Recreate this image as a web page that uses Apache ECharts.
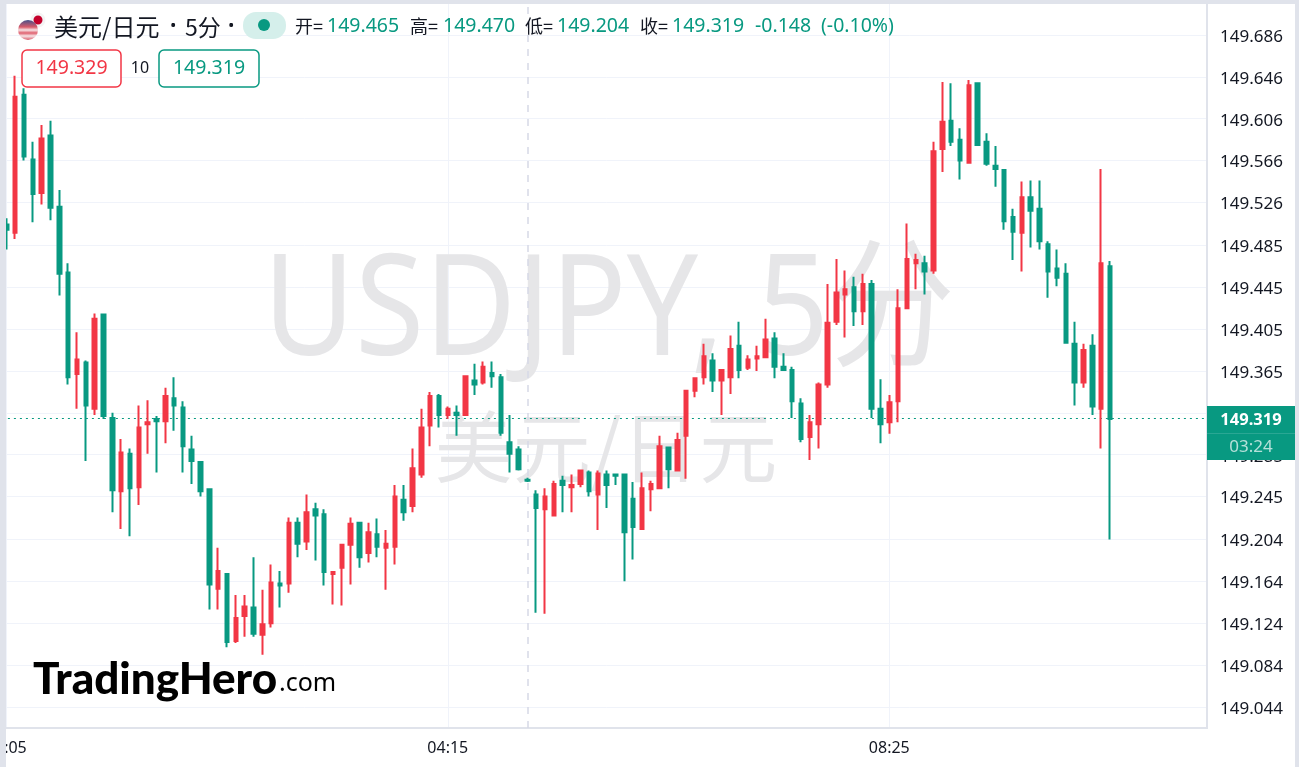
<!DOCTYPE html>
<html>
<head>
<meta charset="utf-8">
<script src="https://cdn.jsdelivr.net/npm/echarts@6/dist/echarts.min.js"></script>
<style>
html, body { margin: 0; padding: 0; background: #fff; }
#main { width: 1299px; height: 767px; }
</style>
</head>
<body>
<div id="main"></div>
<script>
// 价格数据（从图上读取，基数 149）
const opens = [.505,.497,.629,.567,.535,.590,.522,.459,.362,.373,.329,.419,.320,.250,.286,.254,.314,.319,.317,.339,.330,.290,.278,.252,.157,.171,.107,.131,.139,.113,.124,.162,.162,.220,.202,.233,.228,.171,.177,.199,.220,.191,.209,.196,.197,.242,.236,.266,.313,.341,.323,.325,.323,.356,.354,.363,.359,.297,.290,.261,.247,.233,.227,.260,.254,.257,.268,.247,.266,.266,.266,.243,.214,.252,.253,.292,.270,.303,.346,.359,.375,.356,.359,.389,.368,.377,.378,.396,.369,.366,.334,.302,.314,.352,.412,.438,.445,.422,.448,.329,.316,.336,.425,.468,.468,.461,.577,.604,.586,.564,.640,.584,.561,.557,.512,.497,.531,.520,.486,.463,.458,.391,.354,.389,.329,.465];
const closes = [.500,.627,.570,.534,.587,.521,.458,.359,.376,.332,.415,.322,.251,.287,.253,.311,.316,.317,.341,.332,.293,.279,.250,.161,.174,.106,.129,.140,.114,.123,.163,.160,.220,.200,.230,.227,.173,.173,.199,.219,.187,.211,.197,.200,.245,.230,.272,.311,.341,.323,.329,.323,.360,.352,.369,.360,.306,.286,.271,.260,.234,.245,.257,.256,.256,.270,.250,.267,.256,.265,.211,.216,.253,.257,.293,.271,.299,.346,.358,.379,.356,.366,.386,.366,.376,.379,.395,.369,.366,.336,.300,.316,.352,.411,.440,.443,.422,.448,.329,.314,.335,.425,.472,.471,.460,.575,.603,.584,.566,.638,.581,.563,.558,.508,.498,.531,.518,.489,.460,.454,.392,.354,.385,.331,.468,.319];
const highs = [.511,.647,.635,.584,.600,.604,.538,.468,.402,.375,.420,.419,.325,.300,.291,.332,.337,.322,.349,.359,.336,.303,.279,.253,.196,.171,.151,.151,.187,.156,.180,.174,.225,.225,.247,.239,.233,.174,.200,.225,.220,.220,.224,.213,.256,.256,.291,.329,.345,.343,.331,.332,.360,.372,.374,.374,.362,.323,.293,.263,.251,.253,.260,.265,.266,.270,.270,.270,.270,.267,.266,.259,.268,.260,.303,.292,.306,.346,.358,.391,.382,.366,.399,.412,.380,.389,.415,.402,.382,.369,.339,.323,.354,.448,.472,.461,.455,.458,.452,.357,.342,.443,.506,.477,.475,.584,.641,.640,.597,.643,.640,.592,.580,.557,.520,.546,.547,.547,.489,.481,.468,.412,.391,.400,.558,.470];
const lows = [.481,.491,.566,.507,.524,.509,.437,.352,.329,.279,.323,.319,.230,.214,.207,.237,.286,.268,.296,.308,.268,.257,.245,.137,.137,.101,.105,.111,.111,.094,.120,.139,.153,.187,.194,.184,.160,.142,.141,.161,.177,.182,.187,.156,.180,.222,.230,.263,.293,.311,.319,.303,.323,.342,.352,.349,.303,.268,.270,.259,.134,.133,.227,.230,.230,.254,.245,.213,.234,.256,.164,.185,.214,.231,.253,.253,.270,.262,.340,.352,.345,.323,.343,.358,.366,.365,.378,.358,.366,.320,.297,.280,.291,.349,.409,.397,.408,.409,.320,.296,.305,.316,.425,.443,.438,.458,.555,.580,.548,.564,.580,.561,.541,.500,.471,.460,.483,.481,.435,.446,.391,.332,.349,.323,.291,.204];
const yTicks = [149.686,149.646,149.606,149.566,149.526,149.485,149.445,149.405,149.365,149.325,149.285,149.245,149.204,149.164,149.124,149.084,149.044];
const lastPrice = 149.319;
const sessionBreak = 59; // 虚线所在K线
const emptyBars = 11; // 右侧留白

const categories = [];
for (let i = 0; i < opens.length + emptyBars; i++) {
  const m = 5 + i * 5;
  categories.push(String(Math.floor(m / 60)).padStart(2, "0") + ":" + String(m % 60).padStart(2, "0"));
}
const candleData = opens.map((o, i) => [149 + o, 149 + closes[i], 149 + lows[i], 149 + highs[i]]);

const UP = "#f23645";
const DOWN = "#089981";
const FONT = '"Noto Sans", "Noto Sans CJK SC", sans-serif';
const CJK = '"Noto Sans CJK SC", sans-serif';
const yMin = 149.0239;
const yMax = 149.7156;

function showLabel(i) {
  return i === 0 || i === 50 || i === 100;
}

function txt(x, y, text, fill, size, extra) {
  return {
    type: "text", x: x, y: y, z: 30, silent: true,
    style: Object.assign({ text: text, fill: fill, font: size + "px " + FONT, verticalAlign: "middle" }, extra || {}),
  };
}

const chart = echarts.init(document.getElementById("main"), null, { renderer: "canvas" });
chart.setOption({
  animation: false,
  backgroundColor: "#fff",
  grid: { left: 1.9, right: 87.4, top: 4, bottom: 39, outerBoundsMode: "none" },
  xAxis: {
    type: "category",
    data: categories,
    boundaryGap: true,
    axisLine: { lineStyle: { color: "#e0e3eb", width: 2 } },
    axisTick: { show: false, alignWithLabel: true },
    axisLabel: {
      interval: (i) => showLabel(i),
      color: "#131722",
      fontFamily: FONT,
      fontSize: 16,
      margin: 12,
      hideOverlap: false,
    },
    splitLine: { show: true, alignWithLabel: true, interval: (i) => showLabel(i), lineStyle: { color: "#f0f3fa", width: 1 } },
  },
  yAxis: [
    {
      type: "value", min: yMin, max: yMax, scale: true, z: 0,
      axisLine: { show: false }, axisTick: { show: false, customValues: yTicks },
      axisLabel: { show: false, customValues: yTicks },
      splitLine: { show: true, lineStyle: { color: "#f0f3fa", width: 1 } },
    },
    {
      type: "value", min: yMin, max: yMax, scale: true, position: "right", offset: -4.6, z: 10,
      axisLine: { show: true, lineStyle: { color: "#e0e3eb", width: 2 } },
      axisTick: { show: false, customValues: yTicks },
      axisLabel: {
        customValues: yTicks, color: "#131722", fontFamily: FONT, fontSize: 17, margin: 13,
        formatter: (v) => "{a|" + v.toFixed(3) + "}",
        rich: { a: { fontFamily: FONT, fontSize: 17, color: "#131722", padding: [4, 0, 0, 0] } },
      },
      splitLine: { show: false },
    },
  ],
  series: [
    {
      type: "candlestick",
      data: candleData,
      barWidth: 4,
      z: 5,
      itemStyle: { color: UP, color0: DOWN, borderColor: UP, borderColor0: DOWN, borderWidth: 2 },
      markLine: {
        silent: true, symbol: "none", animation: false, z: 4,
        label: { show: false },
        data: [
          { yAxis: lastPrice, lineStyle: { color: DOWN, type: [2, 4], width: 1.2 } },
          { xAxis: sessionBreak, lineStyle: { color: "#d6d9e6", type: [7, 7], width: 1.5 } },
        ],
      },
    },
  ],
  graphic: [
    // 水印
    { type: "text", x: 609, y: 315, scaleY: 1.11, z: 1, silent: true, style: { text: "USDJPY, 5分", fill: "#e6e6e8", font: '126px ' + FONT, align: "center", verticalAlign: "middle" } },
    { type: "text", x: 606, y: 447, z: 1, silent: true, style: { text: "美元/日元", fill: "#e6e6e8", font: '78px ' + CJK, align: "center", verticalAlign: "middle" } },
    // 边框与右侧价格栏
    { type: "rect", z: 8, silent: true, shape: { x: 1208, y: 0, width: 91, height: 767 }, style: { fill: "#fff" } },
    { type: "rect", z: 20, silent: true, shape: { x: 0, y: 0, width: 6, height: 767 }, style: { fill: "#e0e3eb" } },
    { type: "rect", z: 20, silent: true, shape: { x: 0, y: 0, width: 1299, height: 4 }, style: { fill: "#e0e3eb" } },
    { type: "rect", z: 20, silent: true, shape: { x: 1295, y: 0, width: 4, height: 767 }, style: { fill: "#e0e3eb" } },
    // 当前价格
    { type: "rect", z: 22, silent: true, shape: { x: 1207, y: 406, width: 88, height: 54 }, style: { fill: DOWN } },
    { type: "rect", z: 23, silent: true, shape: { x: 1207, y: 433, width: 88, height: 1 }, style: { fill: "#2aa794" } },
    txt(1251, 420, "149.319", "#fff", 17, { align: "center", font: "bold 16.5px " + FONT }),
    txt(1251, 447, "03:24", "#b5e0d9", 17, { align: "center" }),
    // 标题
    { type: "circle", z: 30, silent: true, shape: { cx: 38, cy: 20, r: 6 }, style: { fill: "#c4002b", stroke: "#f4f4f4", lineWidth: 3 } },
    { type: "circle", z: 30, silent: true, shape: { cx: 28, cy: 30, r: 10 }, style: { fill: new echarts.graphic.LinearGradient(0, 0, 0, 1, [
      { offset: 0, color: "#44508a" }, { offset: 0.35, color: "#d85a6a" }, { offset: 0.5, color: "#f6e4e6" }, { offset: 0.65, color: "#e0606f" }, { offset: 0.8, color: "#f6e4e6" }, { offset: 1, color: "#d85a6a" },
    ]) } },
    txt(54, 27, "美元/日元", "#131722", 24, { font: "24px " + CJK }),
    txt(170, 26, "•", "#131722", 17),
    txt(185, 27, "5分", "#131722", 23, { font: "23px " + CJK }),
    txt(228, 26, "•", "#131722", 17),
    { type: "rect", z: 30, silent: true, shape: { x: 243, y: 12, width: 43, height: 27, r: 13 }, style: { fill: "#d5efeb" } },
    { type: "circle", z: 31, silent: true, shape: { cx: 264, cy: 25, r: 6 }, style: { fill: DOWN } },
    txt(295, 26, "开=", "#131722", 18, { font: "18px " + CJK }),
    txt(327, 26, "149.465", DOWN, 19.5),
    txt(410, 26, "高=", "#131722", 18, { font: "18px " + CJK }),
    txt(443, 26, "149.470", DOWN, 19.5),
    txt(525, 26, "低=", "#131722", 18, { font: "18px " + CJK }),
    txt(557, 26, "149.204", DOWN, 19.5),
    txt(640, 26, "收=", "#131722", 18, { font: "18px " + CJK }),
    txt(672, 26, "149.319", DOWN, 19.5),
    txt(755, 26, "-0.148", DOWN, 19.5),
    txt(821, 26, "(-0.10%)", DOWN, 19.5),
    // 买卖价
    { type: "rect", z: 30, silent: true, shape: { x: 22, y: 50, width: 99, height: 37, r: 5 }, style: { fill: "#fff", stroke: UP, lineWidth: 1.5 } },
    txt(71.5, 68, "149.329", UP, 19.5, { align: "center" }),
    txt(140, 68, "10", "#131722", 16, { align: "center" }),
    { type: "rect", z: 30, silent: true, shape: { x: 159, y: 50, width: 100, height: 37, r: 5 }, style: { fill: "#fff", stroke: DOWN, lineWidth: 1.5 } },
    txt(209, 68, "149.319", DOWN, 19.5, { align: "center" }),
    // 水印商标
    txt(33, 680, "TradingHero", "#000", 44, { font: "900 44px Lato, " + FONT }),
    txt(279, 684, ".com", "#000", 25, { font: "25px " + FONT }),
  ],
});
</script>
</body>
</html>
